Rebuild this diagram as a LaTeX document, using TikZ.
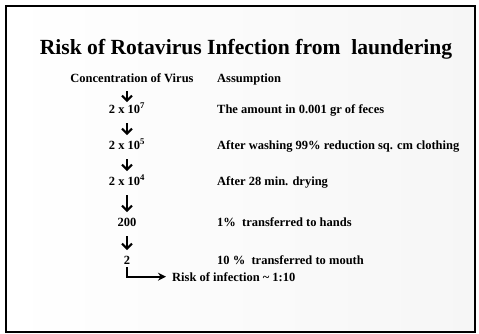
\documentclass[tikz,border=0pt]{standalone}
\usepackage{fontspec}
\setmainfont{Liberation Serif}
\usetikzlibrary{arrows.meta}

\begin{document}
\begin{tikzpicture}[x=1pt, y=-1pt,
    txt/.style={inner sep=0pt, font=\bfseries\fontsize{12.5}{15}\selectfont},
    val/.style={txt, anchor=base},
    note/.style={txt, anchor=base west},
    down/.style={line width=2pt, -{Straight Barb[length=5pt,width=10pt]},
        shorten <=10pt, shorten >=14pt}]
    \useasboundingbox (0,0) rectangle (479,333);
    \shade[left color=white, right color=gray!7] (6,6) rectangle (475,332);
    \draw[line width=2pt] (6,6) rectangle (475,332);
    % title and column heads
    \node[anchor=base, inner sep=0pt, font=\bfseries\fontsize{21.6}{26}\selectfont]
        (title) at (246,54) {Risk of Rotavirus Infection from\ \ laundering};
    \node[val] (conc) at (132,82) {Concentration of Virus};
    \node[note] (assume) at (217,82) {Assumption};
    % virus counts
    \node[val] (c1) at (127,113) {2 x 10\textsuperscript{7}};
    \node[val] (c2) at (127,149) {2 x 10\textsuperscript{5}};
    \node[val] (c3) at (127,185) {2 x 10\textsuperscript{4}};
    \node[val] (c4) at (127,226) {200};
    \node[val] (c5) at (127,264) {2};
    % assumptions
    \node[note] (a1) at (217,113) {The amount in 0.001 gr of feces};
    \node[note] (a2) at (217,149) {After washing 99\% reduction sq. cm clothing};
    \node[note] (a3) at (217,185) {After 28 min. drying};
    \node[note] (a4) at (217,226) {1\%\ \ transferred to hands};
    \node[note] (a5) at (217,264) {10 \%\ \ transferred to mouth};
    \node[note] (risk) at (172,281) {Risk of infection \textasciitilde{} 1:10};
    % arrows down the chain
    \draw[down, shorten <=9pt, shorten >=11pt] (c1 |- conc.base) -- (c1.base);
    \foreach \a/\b in {c1/c2, c2/c3, c3/c4, c4/c5}
        \draw[down] (\a.base) -- (\b.base);
    \draw[line width=1.8pt, -{Stealth[length=8pt,width=8pt]}, shorten <=3pt, shorten >=6pt]
        (c5.south) |- (risk.west);
\end{tikzpicture}
\end{document}
